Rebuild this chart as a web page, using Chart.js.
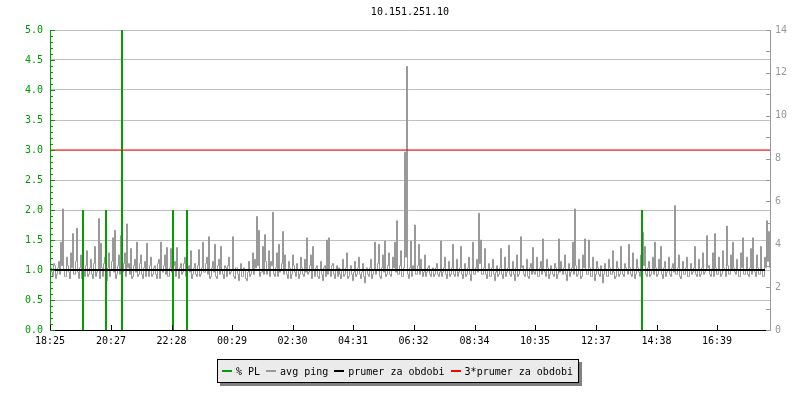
<!DOCTYPE html>
<html>
<head>
<meta charset="utf-8">
<title>10.151.251.10</title>
<script src="https://cdn.jsdelivr.net/npm/chart.js@4.4.1/dist/chart.umd.min.js"></script>
<style>
  html, body { margin: 0; padding: 0; background: #fff; }
  #wrap { position: relative; width: 800px; height: 400px; }
  #title {
    position: absolute; left: 50px; width: 720px; top: 6px;
    text-align: center; font: 10px "DejaVu Sans Mono", monospace; color: #000;
  }
  #legend {
    position: absolute; left: 217px; top: 359px; height: 22px;
    padding: 0 5px 0 4px; box-sizing: content-box;
    background: #ebebeb; border: 1px solid #000; box-shadow: 3px 3px 0 #808080;
    font: 10px "DejaVu Sans Mono", monospace; color: #000;
    display: flex; align-items: center; white-space: nowrap;
  }
  #legend .item { display: flex; align-items: center; margin-right: 6px; }
  #legend .item:last-child { margin-right: 0; }
  #legend .sw { display: inline-block; width: 10px; height: 2px; margin-right: 4px; }
</style>
</head>
<body>
<div id="wrap">
  <canvas id="pingChart" width="800" height="400"></canvas>
  <div id="title"></div>
  <div id="legend"></div>
</div>
<script>
// -----------------------------
// DATA
// -----------------------------
const chartTitle = "10.151.251.10";

// x axis: minutes since 18:25, tick labels
const xTickMinutes = [0, 122, 243, 364, 485, 606, 727, 849, 970, 1092, 1213, 1334];
const xTickLabels = ["18:25", "20:27", "22:28", "00:29", "02:30", "04:31", "06:32", "08:34", "10:35", "12:37", "14:38", "16:39"];
const xMax = 1440;

// avg ping (ms, right axis). Samples every 2 minutes; the first list holds
// the sample at the start of each 4-minute slot, the second one the sample 2 min later.
const pingStep = 4;
const pingOffset = 1;
const pingSlotStart = [
  2.9, 2.5, 3.0, 2.6, 3.2, 4.1, 5.65, 2.5, 3.4, 2.7, 3.6, 4.5, 2.6, 4.75, 2.4, 3.5, 3.1, 2.5, 3.7, 2.6,
  3.3, 2.4, 3.9, 2.7, 5.2, 4.05, 2.5, 3.4, 2.3, 3.6, 2.8, 4.3, 4.65, 2.6, 3.5, 4.4, 2.7, 3.6, 4.95, 3.1,
  3.8, 2.5, 3.3, 4.1, 2.6, 3.5, 2.4, 3.2, 4.05, 2.5, 3.4, 2.6, 3.0, 2.4, 3.3, 4.1, 2.7, 3.5, 3.85, 2.5,
  3.8, 2.6, 3.2, 3.85, 2.4, 3.1, 2.7, 3.4, 2.5, 3.0, 3.7, 2.6,
  3.1, 2.5, 3.75, 2.6, 4.1, 2.7, 3.4, 4.35, 2.5, 3.2, 4.0, 2.4, 3.3, 3.9, 2.6, 3.0, 2.5, 3.4, 2.7, 4.35,
  2.4, 2.9, 2.3, 3.1, 2.5, 2.8, 2.3, 3.2, 2.6, 3.6, 3.3, 5.3, 4.65, 2.7, 3.9, 4.45, 2.6, 3.7, 3.2, 5.5,
  2.5, 3.6, 4.0, 2.8, 4.6, 3.5, 2.6, 3.2, 2.4, 3.5, 2.7, 3.1, 2.4, 3.4, 2.6, 3.3, 4.3, 2.7, 3.5, 3.9,
  2.5, 3.0, 2.4, 3.2, 2.3, 3.0, 4.2, 4.3, 2.5, 3.1, 2.4, 3.0,
  2.9, 2.4, 3.3, 2.6, 3.6, 2.5, 3.0, 2.3, 3.2, 2.6, 3.4, 2.4, 3.1, 2.2, 2.9, 2.5, 3.3, 2.6, 4.1, 2.8,
  4.0, 2.4, 3.5, 4.15, 2.6, 3.6, 2.5, 3.4, 4.1, 5.1, 2.6, 3.7, 2.5, 8.3, 12.3, 2.4, 4.15, 3.0, 4.9, 2.6,
  4.0, 3.3, 2.5, 3.5, 2.7, 3.0, 2.5, 2.9, 2.6, 3.1, 2.5, 4.15, 2.7, 3.4, 2.4, 3.2, 2.6, 4.0, 2.5, 3.3,
  2.7, 3.9, 2.4, 3.1, 2.6, 3.4, 2.3, 4.1, 2.6, 3.3, 5.45, 4.2,
  2.6, 3.8, 2.4, 3.1, 2.5, 3.3, 2.3, 3.0, 2.6, 3.8, 2.4, 3.4, 2.7, 3.95, 2.5, 3.2, 2.3, 3.5, 2.6, 4.35,
  3.0, 2.5, 3.3, 2.4, 3.1, 3.85, 2.6, 3.4, 2.5, 3.2, 4.25, 2.7, 3.3, 2.4, 3.0, 2.6, 3.1, 2.4, 4.25, 3.2,
  2.6, 3.5, 2.3, 3.1, 2.7, 4.1, 5.65, 2.5, 3.3, 2.4, 3.5, 4.25, 2.6, 4.2, 2.5, 3.4, 2.3, 3.2, 2.6, 3.0,
  2.2, 3.1, 2.5, 3.3, 2.6, 3.7, 2.4, 3.2, 2.5, 3.9, 2.6, 3.1,
  2.8, 4.0, 2.6, 3.6, 2.4, 3.3, 2.7, 3.5, 4.55, 3.9, 2.5, 3.2, 2.6, 3.4, 4.1, 2.5, 3.3, 3.9, 2.4, 3.2,
  2.7, 3.4, 2.5, 3.1, 5.8, 2.6, 3.5, 2.4, 3.2, 2.6, 3.4, 2.5, 3.1, 2.7, 3.9, 2.5, 3.3, 2.6, 3.6, 2.7,
  4.4, 3.0, 2.5, 3.6, 4.5, 2.6, 3.4, 2.5, 3.7, 2.8, 4.85, 2.6, 3.5, 4.1, 2.7, 3.3, 2.5, 3.6, 4.3, 2.6,
  3.4, 2.5, 3.8, 4.3, 2.7, 3.5, 2.6, 3.9, 2.5, 3.4, 5.1, 4.6
];
const pingSlotMid = [
  2.7, 3.1, 2.4, 2.9, 2.6, 3.0, 2.8, 2.5, 3.0, 2.4, 2.9, 2.6, 3.2, 2.7, 2.9, 2.4, 2.8, 3.0, 2.5, 2.9,
  2.6, 3.1, 2.5, 2.8, 2.4, 2.9, 3.1, 2.6, 2.9, 2.5, 3.2, 2.7, 2.4, 3.0, 2.6, 2.8, 3.1, 2.5, 2.9, 2.6,
  2.4, 3.0, 2.7, 2.5, 3.1, 2.6, 2.9, 2.5, 2.8, 3.0, 2.5, 2.9, 2.6, 3.1, 2.4, 2.8, 3.0, 2.6, 2.5, 2.9,
  2.7, 3.0, 2.5, 2.8, 2.9, 2.6, 3.1, 2.5, 2.8, 2.7, 2.4, 2.9,
  2.6, 3.0, 2.5, 2.9, 2.7, 3.1, 2.6, 2.4, 2.9, 2.7, 2.5, 3.0, 2.6, 2.8, 2.4, 2.9, 3.0, 2.6, 2.8, 2.5,
  2.9, 2.6, 2.8, 2.5, 2.9, 2.4, 2.7, 2.5, 2.8, 2.6, 2.9, 3.0, 2.5, 2.7, 2.6, 3.2, 2.8, 2.5, 3.0, 2.6,
  2.9, 2.5, 2.7, 3.1, 2.6, 2.8, 2.4, 2.9, 2.6, 3.0, 2.5, 2.8, 2.6, 2.9, 2.5, 2.7, 2.6, 3.0, 2.4, 2.8,
  2.9, 2.5, 2.8, 2.6, 2.9, 2.5, 2.6, 2.8, 3.0, 2.6, 2.8, 2.5,
  2.6, 2.8, 2.5, 2.9, 2.4, 2.8, 2.6, 2.7, 2.5, 2.9, 2.6, 2.7, 2.5, 2.8, 2.6, 2.9, 2.4, 2.8, 2.6, 3.1,
  2.5, 2.9, 2.7, 2.5, 3.0, 2.6, 2.8, 2.9, 2.7, 2.6, 3.0, 2.5, 2.9, 3.4, 2.6, 2.9, 2.5, 2.8, 2.6, 3.0,
  2.6, 2.8, 2.7, 2.5, 2.9, 2.6, 2.8, 2.5, 2.9, 2.6, 2.7, 2.5, 2.9, 2.6, 2.8, 2.5, 2.9, 2.6, 2.8, 2.5,
  2.9, 2.6, 2.8, 2.5, 2.9, 2.6, 2.8, 2.6, 2.9, 2.7, 3.1, 2.6,
  2.9, 2.6, 2.8, 2.5, 2.9, 2.6, 2.7, 2.5, 2.9, 2.6, 2.8, 2.5, 2.9, 2.6, 2.8, 2.6, 2.9, 2.5, 2.8, 2.9,
  2.6, 2.8, 2.5, 2.9, 2.6, 2.7, 2.8, 2.5, 2.9, 2.6, 2.8, 2.5, 2.9, 2.6, 2.8, 2.5, 2.9, 2.6, 2.7, 2.8,
  2.9, 2.6, 2.8, 2.5, 2.9, 2.6, 3.0, 2.6, 2.8, 2.5, 2.9, 2.8, 2.6, 2.9, 2.5, 2.8, 2.6, 2.9, 2.5, 2.8,
  2.6, 2.8, 2.5, 2.9, 2.6, 2.7, 2.5, 2.9, 2.6, 2.8, 2.5, 2.9,
  2.6, 2.9, 2.5, 2.8, 2.6, 2.9, 2.5, 2.8, 3.0, 2.6, 2.9, 2.5, 2.8, 2.6, 2.9, 2.6, 2.8, 2.6, 2.9, 2.5,
  2.8, 2.6, 2.9, 2.7, 2.6, 2.9, 2.5, 2.8, 2.6, 2.9, 2.5, 2.8, 2.6, 2.9, 2.6, 2.8, 2.5, 2.9, 2.6, 2.8,
  2.9, 2.6, 2.8, 2.5, 2.9, 2.6, 2.8, 2.6, 2.9, 2.5, 3.0, 2.6, 2.8, 2.9, 2.6, 2.8, 2.5, 2.9, 2.6, 2.8,
  2.6, 2.9, 2.6, 2.8, 2.5, 2.9, 2.6, 2.8, 2.5, 2.9, 3.2, 2.9
];

// % packet loss (left axis): minute of each loss spike and its value
const plMinutes = [66, 112, 144, 246, 274, 1184];
const plValues = [2.0, 2.0, 5.0, 2.0, 2.0, 2.0];

// period average (left axis units) and 3x average
const meanValue = 1.0;
const tripleMeanValue = 3.0;
const meanEnd = 1430;

const seriesLabels = ["% PL", "avg ping", "prumer za obdobi", "3*prumer za obdobi"];
const seriesColors = ["#00a000", "#999999", "#000000", "#ff0000"];

// -----------------------------
// BUILD DATASETS
// -----------------------------
const pingPoints = [];
pingSlotStart.forEach((v, i) => {
  pingPoints.push({ x: i * pingStep + pingOffset, y: v });
  pingPoints.push({ x: i * pingStep + pingOffset + pingStep / 2, y: pingSlotMid[i] });
});

// each loss sample is drawn as a vertical stroke from zero
const plPoints = [];
plMinutes.forEach((m, i) => {
  plPoints.push({ x: m, y: 0 });
  plPoints.push({ x: m, y: plValues[i] });
  plPoints.push({ x: m, y: null });
});

// -----------------------------
// INNER TICK MARKS
// -----------------------------
const innerTicks = {
  id: 'innerTicks',
  afterDatasetsDraw(chart) {
    const { ctx, scales } = chart;
    const yl = scales.yPL, yr = scales.yPing, x = scales.x;
    ctx.save();
    ctx.lineWidth = 1;

    // left axis: minor every 0.1, major every 0.5
    ctx.strokeStyle = '#009900';
    ctx.beginPath();
    for (let i = 0; i <= 50; i++) {
      const y = Math.round(yl.getPixelForValue(i / 10)) + 0.5;
      const len = i % 5 === 0 ? 5 : 3;
      ctx.moveTo(yl.right, y);
      ctx.lineTo(yl.right + len, y);
    }
    ctx.stroke();

    // right axis: every 1 ms
    ctx.strokeStyle = '#999999';
    ctx.beginPath();
    for (let i = 0; i <= 14; i++) {
      const y = Math.round(yr.getPixelForValue(i)) + 0.5;
      ctx.moveTo(yr.left, y);
      ctx.lineTo(yr.left - 4, y);
    }
    ctx.stroke();

    // bottom axis: at each label
    ctx.strokeStyle = '#000000';
    ctx.beginPath();
    xTickMinutes.forEach(m => {
      const px = Math.round(x.getPixelForValue(m)) + 0.5;
      ctx.moveTo(px, x.top);
      ctx.lineTo(px, x.top - 5);
    });
    ctx.stroke();
    ctx.restore();
  }
};

// -----------------------------
// CHART
// -----------------------------
const monoFont = { family: '"DejaVu Sans Mono", monospace', size: 10 };

const ctx = document.getElementById("pingChart").getContext("2d");
const pingChart = new Chart(ctx, {
  type: "line",
  data: {
    datasets: [
      {
        label: seriesLabels[0],
        data: plPoints,
        yAxisID: 'yPL',
        borderColor: seriesColors[0],
        borderWidth: 2,
        pointRadius: 0,
        order: 2
      },
      {
        label: seriesLabels[1],
        data: pingPoints,
        yAxisID: 'yPing',
        borderColor: seriesColors[1],
        borderWidth: 1,
        pointRadius: 0,
        stepped: true,
        order: 3
      },
      {
        label: seriesLabels[2],
        data: [{ x: 0, y: meanValue }, { x: meanEnd, y: meanValue }],
        yAxisID: 'yPL',
        borderColor: seriesColors[2],
        borderWidth: 2,
        pointRadius: 0,
        order: 0
      },
      {
        label: seriesLabels[3],
        data: [{ x: 0, y: tripleMeanValue }, { x: xMax, y: tripleMeanValue }],
        yAxisID: 'yPL',
        borderColor: seriesColors[3],
        borderWidth: 1,
        pointRadius: 0,
        order: 1
      }
    ]
  },
  options: {
    responsive: false,
    animation: false,
    layout: { padding: { top: 30 } },
    plugins: {
      legend: { display: false },
      tooltip: { enabled: false },
      title: { display: false }
    },
    scales: {
      x: {
        type: 'linear',
        min: 0,
        max: xMax,
        afterBuildTicks: s => { s.ticks = xTickMinutes.map(v => ({ value: v })); },
        afterFit: s => { s.height = 70; },
        grid: { display: false, drawTicks: false },
        border: { color: '#000', width: 1 },
        ticks: {
          autoSkip: false,
          maxRotation: 0,
          padding: 5,
          color: '#000',
          font: monoFont,
          callback: v => xTickLabels[xTickMinutes.indexOf(v)]
        }
      },
      yPL: {
        position: 'left',
        min: 0,
        max: 5,
        afterFit: s => { s.width = 50; },
        grid: { color: '#c0c0c0', drawTicks: false },
        border: { color: '#00a000', width: 1 },
        ticks: {
          stepSize: 0.5,
          padding: 7,
          color: '#009900',
          font: monoFont,
          callback: v => v.toFixed(1)
        }
      },
      yPing: {
        position: 'right',
        min: 0,
        max: 14,
        afterFit: s => { s.width = 30; },
        grid: { display: false, drawTicks: false },
        border: { color: '#999999', width: 1 },
        ticks: {
          stepSize: 2,
          padding: 5,
          color: '#999999',
          font: monoFont
        }
      }
    }
  },
  plugins: [innerTicks]
});

// -----------------------------
// TITLE AND LEGEND (boxed, like the original)
// -----------------------------
document.getElementById('title').textContent = chartTitle;

const legendEl = document.getElementById('legend');
pingChart.data.datasets.forEach(ds => {
  const item = document.createElement('span');
  item.className = 'item';
  item.innerHTML = `<span class="sw" style="background:${ds.borderColor}"></span><span>${ds.label}</span>`;
  legendEl.appendChild(item);
});
</script>
</body>
</html>
